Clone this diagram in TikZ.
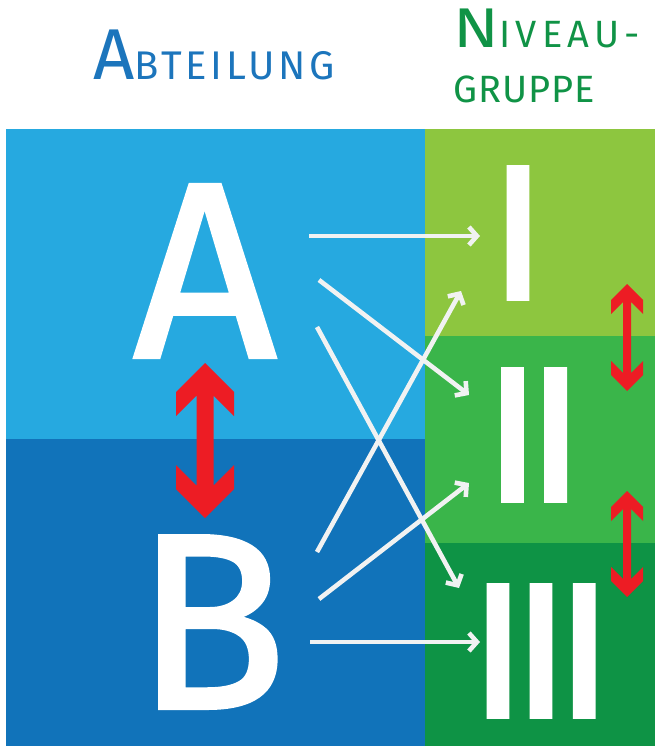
\documentclass[tikz,border=0pt]{standalone}
\usepackage{fontspec}
\setmainfont{Fira Sans}
\usetikzlibrary{arrows.meta}
\definecolor{lblue}{HTML}{26A9E0}
\definecolor{dblue}{HTML}{1173BA}
\definecolor{lgreen}{HTML}{8DC63F}
\definecolor{mgreen}{HTML}{3AB54A}
\definecolor{dgreen}{HTML}{0E9345}
\definecolor{redar}{HTML}{ED1C24}
\definecolor{whar}{HTML}{F1F2F2}
\definecolor{txtblue}{HTML}{1C75BC}
\definecolor{txtgreen}{HTML}{109346}
\tikzset{
  bigletter/.style={inner sep=0pt, text=white, font=\addfontfeatures{FakeBold=1.5}\fontsize{250}{250}\selectfont},
  numeral/.style={inner sep=0pt, text=white, font=\addfontfeatures{FakeBold=2.5}\fontsize{190}{190}\selectfont},
  heading/.style={inner sep=0pt, anchor=base west},
  wharrow/.style={draw=whar, line width=4.6pt, -{Straight Barb[length=8pt,width=18pt]}},
  pics/redarrow/.style n args={4}{code={
    \fill[redar] (0,0) -- (#2,#2) -- (#2,#2+#3) -- (#1,#3+#1) -- (#1,#4-#3-#1)
      -- (#2,#4-#2-#3) -- (#2,#4-#2) -- (0,#4) -- (-#2,#4-#2) -- (-#2,#4-#2-#3)
      -- (-#1,#4-#3-#1) -- (-#1,#3+#1) -- (-#2,#2+#3) -- (-#2,#2) -- cycle;
  }}
}
\newcommand{\smc}[2]{{\fontsize{72}{72}\selectfont #1}{\addfontfeatures{LetterSpace=9}\fontsize{40}{40}\selectfont #2}}
\newcommand{\smcg}[2]{{\addfontfeatures{FakeStretch=1.2}\fontsize{56}{56}\selectfont #1}{\addfontfeatures{LetterSpace=14}\fontsize{38}{38}\selectfont #2}}
\begin{document}
\begin{tikzpicture}[x=1pt,y=-1pt]
\useasboundingbox (0,0) rectangle (655,746);
% panels
\fill[lblue] (6,129) rectangle (425,439);
\fill[dblue] (6,439) rectangle (425,746);
\fill[lgreen] (425,129) rectangle (655,336);
\fill[mgreen] (425,336) rectangle (655,543);
\fill[dgreen] (425,543) rectangle (655,746);
% headings
\node[heading, text=txtblue] (abt) at (93,80) {\smc{A}{BTEILUNG}};
\node[heading, text=txtgreen] (niv) at (453,48) {\smcg{N}{IVEAU-}};
\node[heading, text=txtgreen] (grp) at (453,103) {\addfontfeatures{LetterSpace=3}\fontsize{38}{38}\selectfont GRUPPE};
% letters and numerals
\node[bigletter] (A) at (205,271) {A};
\node[bigletter] (B) at (211,622) {B};
\node[numeral] (I) at (518,233) {I};
\node[numeral] (II) at (534,435) {I\kern-13pt I};
\node[numeral] (III) at (541,651) {I\kern-13pt I\kern-13pt I};
% red double arrows
\pic at (205,363) {redarrow={8.5}{29}{24}{155}};
\pic at (627,284) {redarrow={4}{16}{14}{107}};
\pic at (627,491) {redarrow={4}{16}{14}{106}};
% white arrow end points
\coordinate (s1) at (309,236); \coordinate (e1) at (480,236);
\coordinate (s2) at (319,280); \coordinate (e2) at (469,395);
\coordinate (s3) at (317,327); \coordinate (e3) at (459,588);
\coordinate (s4) at (317,552); \coordinate (e4) at (461,291);
\coordinate (s5) at (319,599); \coordinate (e5) at (469,483);
\coordinate (s6) at (310,642); \coordinate (e6) at (480,642);
\draw[wharrow] (s1) -- (e1);
\draw[wharrow] (s2) -- (e2);
\draw[wharrow] (s3) -- (e3);
\draw[wharrow] (s4) -- (e4);
\draw[wharrow] (s5) -- (e5);
\draw[wharrow] (s6) -- (e6);
\end{tikzpicture}
\end{document}
